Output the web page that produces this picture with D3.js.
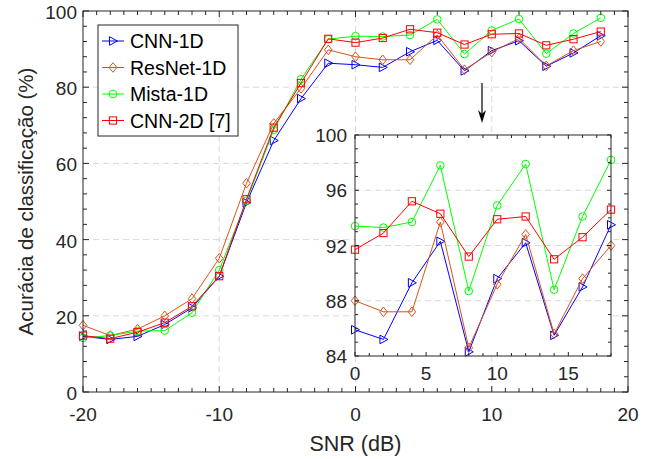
<!DOCTYPE html>
<html>
<head>
<meta charset="utf-8">
<script src="https://cdn.jsdelivr.net/npm/d3@7"></script>
<style>
  body { margin: 0; background: #fff; }
  svg { font-family: "Liberation Sans", Arial, sans-serif; }
</style>
</head>
<body>
<svg id="chart" width="654" height="459"></svg>
<script>
// SNR values (dB)
const snr = [-20, -18, -16, -14, -12, -10, -8, -6, -4, -2, 0, 2, 4, 6, 8, 10, 12, 14, 16, 18];

const cnn1d   = [14.6, 13.8, 14.6, 17.7, 22.1, 30.4, 49.7, 66.0, 77.0, 86.3, 85.9, 85.2, 89.3, 92.3, 84.3, 89.6, 92.2, 85.5, 89.0, 93.5];
const resnet  = [17.5, 14.8, 16.5, 20.0, 24.5, 35.1, 54.8, 70.5, 79.7, 89.8, 88.0, 87.2, 87.2, 93.7, 84.6, 89.2, 92.8, 85.6, 89.6, 92.0];
const mista   = [14.2, 14.8, 16.0, 16.1, 20.8, 32.0, 50.2, 68.8, 82.1, 92.6, 93.4, 93.3, 93.7, 97.8, 88.7, 94.9, 97.9, 88.8, 94.1, 98.2];
const cnn2d   = [14.8, 14.0, 15.7, 18.2, 22.5, 30.4, 50.6, 69.4, 81.1, 92.7, 91.7, 92.9, 95.2, 94.3, 91.2, 93.9, 94.1, 91.0, 92.6, 94.6];

const seriesNames = ["CNN-1D", "ResNet-1D", "Mista-1D", "CNN-2D [7]"];
const seriesValues = [cnn1d, resnet, mista, cnn2d];
const colors = ["#0000ff", "#d95319", "#00ff00", "#ff0000"];
const markers = ["tri", "diamond", "circle", "square"];

const svg = d3.select("#chart");
const axisColor = "#262626";
const gridColor = "#d9d9d9";

function drawMarker(g, type, x, y, color) {
    if (type === "circle") {
        g.append("circle").attr("cx", x).attr("cy", y).attr("r", 3.8)
            .attr("fill", "none").attr("stroke", color).attr("stroke-width", 1);
    } else if (type === "square") {
        g.append("rect").attr("x", x - 3.6).attr("y", y - 3.6).attr("width", 7.2).attr("height", 7.2)
            .attr("fill", "none").attr("stroke", color).attr("stroke-width", 1);
    } else if (type === "diamond") {
        g.append("path").attr("d", `M${x},${y - 4.8}L${x + 3.8},${y}L${x},${y + 4.8}L${x - 3.8},${y}Z`)
            .attr("fill", "none").attr("stroke", color).attr("stroke-width", 1);
    } else {
        g.append("path").attr("d", `M${x + 4.5},${y}L${x - 3.5},${y - 4.3}L${x - 3.5},${y + 4.3}Z`)
            .attr("fill", "none").attr("stroke", color).attr("stroke-width", 1);
    }
}

// draws a matlab-like box with inward ticks on all sides
function drawBox(g, x, y, xMajor, xMinor, yMajor, yMinor, majLen, minLen) {
    const [x0, x1] = x.range();
    const [y0, y1] = y.range(); // y0 bottom, y1 top
    xMinor.forEach(v => {
        const len = xMajor.includes(v) ? majLen : minLen;
        g.append("line").attr("x1", x(v)).attr("x2", x(v)).attr("y1", y0).attr("y2", y0 - len).attr("stroke", axisColor);
        g.append("line").attr("x1", x(v)).attr("x2", x(v)).attr("y1", y1).attr("y2", y1 + len).attr("stroke", axisColor);
    });
    yMinor.forEach(v => {
        const len = yMajor.includes(v) ? majLen : minLen;
        g.append("line").attr("x1", x0).attr("x2", x0 + len).attr("y1", y(v)).attr("y2", y(v)).attr("stroke", axisColor);
        g.append("line").attr("x1", x1).attr("x2", x1 - len).attr("y1", y(v)).attr("y2", y(v)).attr("stroke", axisColor);
    });
    g.append("rect").attr("x", x0).attr("y", y1).attr("width", x1 - x0).attr("height", y0 - y1)
        .attr("fill", "none").attr("stroke", axisColor).attr("stroke-width", 1);
}

// ---- main axes ----
const x = d3.scaleLinear().domain([-20, 20]).range([83, 628]);
const y = d3.scaleLinear().domain([0, 100]).range([392, 11]);

const xMajor = d3.range(-20, 21, 10);
const yMajor = d3.range(0, 101, 20);

const main = svg.append("g");
main.append("g").selectAll("line").data(xMajor.slice(1, -1)).join("line")
    .attr("x1", d => x(d)).attr("x2", d => x(d)).attr("y1", y(0)).attr("y2", y(100))
    .attr("stroke", gridColor).attr("stroke-dasharray", "6,4");
main.append("g").selectAll("line").data(yMajor.slice(1, -1)).join("line")
    .attr("x1", x(-20)).attr("x2", x(20)).attr("y1", d => y(d)).attr("y2", d => y(d))
    .attr("stroke", gridColor).attr("stroke-dasharray", "6,4");

const line = d3.line().x((d, i) => x(snr[i])).y(d => y(d));
seriesValues.forEach((vals, k) => {
    main.append("path").datum(vals).attr("d", line)
        .attr("fill", "none").attr("stroke", colors[k]).attr("stroke-width", 1);
    const mg = main.append("g");
    vals.forEach((v, i) => drawMarker(mg, markers[k], x(snr[i]), y(v), colors[k]));
});

drawBox(main, x, y, xMajor, d3.range(-20, 21, 1), yMajor, d3.range(0, 101, 4), 6, 4);

main.append("g").selectAll("text").data(xMajor).join("text")
    .attr("x", d => x(d)).attr("y", 421).attr("text-anchor", "middle")
    .attr("font-size", 19).attr("fill", axisColor).text(d => d);
main.append("g").selectAll("text").data(yMajor).join("text")
    .attr("x", 77).attr("y", d => y(d) + 8).attr("text-anchor", "end")
    .attr("font-size", 19).attr("fill", axisColor).text(d => d);

svg.append("text").attr("x", x(0)).attr("y", 451).attr("text-anchor", "middle")
    .attr("font-size", 21.5).attr("fill", axisColor).text("SNR (dB)");
svg.append("text").attr("transform", `translate(33,${y(50)}) rotate(-90)`).attr("text-anchor", "middle")
    .attr("font-size", 20.5).attr("fill", axisColor).text("Acurácia de classificação (%)");

// ---- legend ----
const lg = svg.append("g");
lg.append("rect").attr("x", 98).attr("y", 25).attr("width", 140).attr("height", 111)
    .attr("fill", "#fff").attr("stroke", axisColor).attr("stroke-width", 1);
seriesNames.forEach((name, k) => {
    const ly = 41 + k * 26.5;
    lg.append("line").attr("x1", 102).attr("x2", 124).attr("y1", ly).attr("y2", ly)
        .attr("stroke", colors[k]).attr("stroke-width", 1);
    drawMarker(lg, markers[k], 113, ly, colors[k]);
    lg.append("text").attr("x", 130).attr("y", ly + 7).attr("font-size", 19.5)
        .attr("fill", "#000").text(name);
});

// ---- arrow ----
svg.append("line").attr("x1", 482).attr("x2", 482).attr("y1", 83).attr("y2", 118)
    .attr("stroke", "#000").attr("stroke-width", 1.2);
svg.append("path").attr("d", "M478,110L482,123L486,110L482,114Z").attr("fill", "#000");

// ---- inset ----
const snrIn = snr.filter(s => s >= 0);
const ix = d3.scaleLinear().domain([0, 18]).range([355, 611]);
const iy = d3.scaleLinear().domain([84, 100]).range([356, 135]);
const inset = svg.append("g");
inset.append("rect").attr("x", 355).attr("y", 135).attr("width", 256).attr("height", 221).attr("fill", "#fff");
inset.append("g").selectAll("line").data([88, 92, 96]).join("line")
    .attr("x1", ix(0)).attr("x2", ix(18)).attr("y1", d => iy(d)).attr("y2", d => iy(d))
    .attr("stroke", gridColor).attr("stroke-dasharray", "6,4");

const off = snr.length - snrIn.length;
const iline = d3.line().x((d, i) => ix(snrIn[i])).y(d => iy(d));
seriesValues.forEach((vals, k) => {
    const sub = vals.slice(off);
    inset.append("path").datum(sub).attr("d", iline)
        .attr("fill", "none").attr("stroke", colors[k]).attr("stroke-width", 1);
    const mg = inset.append("g");
    sub.forEach((v, i) => drawMarker(mg, markers[k], ix(snrIn[i]), iy(v), colors[k]));
});

drawBox(inset, ix, iy, [0, 5, 10, 15], d3.range(0, 19, 1), [84, 88, 92, 96, 100], d3.range(84, 101, 1), 4, 3);

inset.append("g").selectAll("text").data([0, 5, 10, 15]).join("text")
    .attr("x", d => ix(d)).attr("y", 380).attr("text-anchor", "middle")
    .attr("font-size", 19).attr("fill", axisColor).text(d => d);
inset.append("g").selectAll("text").data([84, 88, 92, 96, 100]).join("text")
    .attr("x", 347).attr("y", d => iy(d) + 7).attr("text-anchor", "end")
    .attr("font-size", 19).attr("fill", axisColor).text(d => d);
</script>
</body>
</html>
